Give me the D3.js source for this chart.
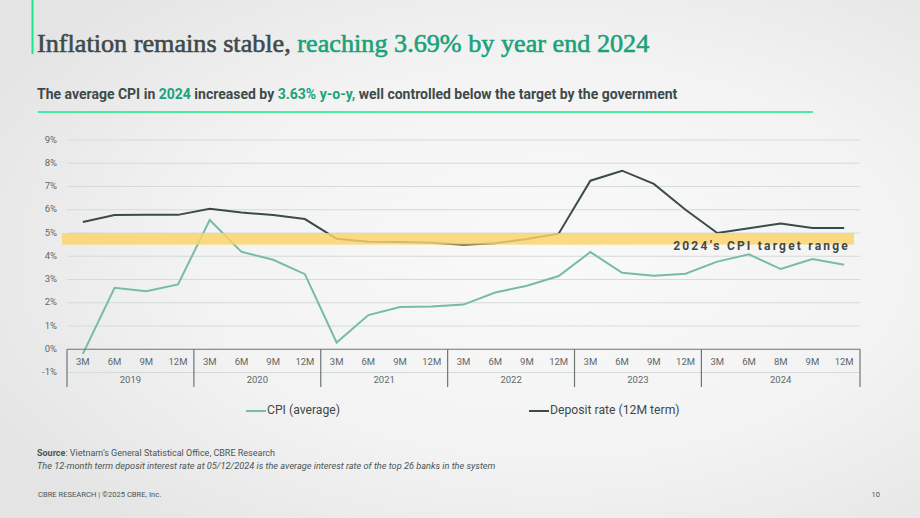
<!DOCTYPE html>
<html>
<head>
<meta charset="utf-8">
<script src="https://cdn.jsdelivr.net/npm/d3@7"></script>
<style>
  html, body { margin: 0; padding: 0; background: #eeeeee; }
  svg { display: block; }
</style>
</head>
<body>
<svg id="chart" width="920" height="518"></svg>
<script>
// Data
const periods = ['3M','6M','9M','12M','3M','6M','9M','12M','3M','6M','9M','12M',
  '3M','6M','9M','12M','3M','6M','9M','12M','3M','6M','8M','9M','12M'];
const periodYears = ['2019','2019','2019','2019','2020','2020','2020','2020',
  '2021','2021','2021','2021','2022','2022','2022','2022','2023','2023','2023','2023',
  '2024','2024','2024','2024','2024'];
const years = ['2019','2020','2021','2022','2023','2024'];
const cpi = [-0.2, 2.64, 2.5, 2.79, 5.56, 4.19, 3.85, 3.23, 0.29, 1.47, 1.82, 1.84,
  1.92, 2.44, 2.73, 3.15, 4.18, 3.29, 3.16, 3.25, 3.77, 4.08, 3.45, 3.88, 3.63];
const deposit = [5.47, 5.77, 5.78, 5.78, 6.04, 5.88, 5.77, 5.6, 4.75, 4.62, 4.61, 4.58,
  4.49, 4.56, 4.74, 4.97, 7.25, 7.68, 7.11, 6.0, 5.0, 5.2, 5.41, 5.22, 5.21];
const yTicks = [-1, 0, 1, 2, 3, 4, 5, 6, 7, 8, 9];
const targetRange = [4.5, 5];

// Colors
const COLOR_CPI = '#77bca4';
const COLOR_DEPOSIT = '#3b4b49';
const COLOR_TEXT = '#3e4a4a';
const COLOR_GREEN = '#1aa27a';
const COLOR_ACCENT = '#17e88f';
const COLOR_GRID = '#d3dbdb';
const COLOR_AXIS = '#6d7575';

const svg = d3.select('#chart');

// Background
const defs = svg.append('defs');
const bg = defs.append('radialGradient').attr('id', 'bg')
  .attr('cx', '0.6').attr('cy', '0.5').attr('r', '0.7');
bg.append('stop').attr('offset', '0%').attr('stop-color', '#f9f9f9');
bg.append('stop').attr('offset', '55%').attr('stop-color', '#f3f3f3');
bg.append('stop').attr('offset', '100%').attr('stop-color', '#e4e4e4');
svg.append('rect').attr('width', 920).attr('height', 518).attr('fill', 'url(#bg)');

// Title block
svg.append('line')
  .attr('x1', 32.5).attr('x2', 32.5).attr('y1', 0).attr('y2', 54)
  .attr('stroke', COLOR_ACCENT).attr('stroke-width', 2);

const title = svg.append('text')
  .attr('x', 37).attr('y', 52)
  .attr('font-family', '"Liberation Serif", serif')
  .attr('font-size', 26.2)
  .attr('stroke-width', 0.6)
  .attr('fill', COLOR_TEXT).attr('stroke', COLOR_TEXT);
title.append('tspan').text('Inflation remains stable, ');
title.append('tspan').attr('fill', COLOR_GREEN).attr('stroke', COLOR_GREEN)
  .text('reaching 3.69% by year end 2024');

const sub = svg.append('text')
  .attr('x', 37).attr('y', 99)
  .attr('font-family', 'Roboto, sans-serif')
  .attr('font-size', 14).attr('font-weight', 700)
  .attr('fill', COLOR_TEXT);
[['The average CPI in ', false], ['2024', true], [' increased by ', false],
 ['3.63% y-o-y,', true], [' well controlled below the target by the government', false]]
  .forEach(([t, g]) => sub.append('tspan').attr('fill', g ? COLOR_GREEN : COLOR_TEXT).text(t));

svg.append('line')
  .attr('x1', 38).attr('x2', 813).attr('y1', 112).attr('y2', 112)
  .attr('stroke', COLOR_ACCENT).attr('stroke-width', 1.5);

// Scales
const x = d3.scaleBand().domain(d3.range(periods.length)).range([67, 860]);
const y = d3.scaleLinear().domain([-1, 9]).range([372.5, 140]);
const cx = i => x(i) + x.bandwidth() / 2;

// Gridlines
svg.append('g').selectAll('line')
  .data(yTicks.filter(d => d !== 0))
  .join('line')
  .attr('x1', 67).attr('x2', 860)
  .attr('y1', d => y(d)).attr('y2', d => y(d))
  .attr('stroke', COLOR_GRID).attr('stroke-width', 1.2);

// Y tick labels
svg.append('g').selectAll('text')
  .data(yTicks)
  .join('text')
  .attr('x', 57).attr('y', d => y(d))
  .attr('text-anchor', 'end').attr('dominant-baseline', 'middle')
  .attr('font-family', 'Roboto, sans-serif').attr('font-size', 9.5)
  .attr('fill', '#5d6767')
  .text(d => d + '%');

// Lines
const line = d3.line().x((d, i) => cx(i)).y(d => y(d));
svg.append('path').datum(cpi)
  .attr('d', line).attr('fill', 'none')
  .attr('stroke', COLOR_CPI).attr('stroke-width', 2);
svg.append('path').datum(deposit)
  .attr('d', line).attr('fill', 'none')
  .attr('stroke', COLOR_DEPOSIT).attr('stroke-width', 2);

// Target band (over the lines, semi-transparent)
svg.append('rect')
  .attr('x', 62).attr('width', 854 - 62)
  .attr('y', y(targetRange[1])).attr('height', y(targetRange[0]) - y(targetRange[1]))
  .attr('fill', '#fdd36a').attr('opacity', 0.82);

svg.append('text')
  .attr('x', 850).attr('y', 250)
  .attr('text-anchor', 'end')
  .attr('font-family', 'Roboto, sans-serif').attr('font-size', 12).attr('font-weight', 700)
  .attr('letter-spacing', 2.2)
  .attr('fill', COLOR_TEXT)
  .text('2024’s CPI target range');

// Category axis
const axisG = svg.append('g');
axisG.append('line')
  .attr('x1', 67).attr('x2', 860).attr('y1', y(0)).attr('y2', y(0))
  .attr('stroke', COLOR_AXIS).attr('stroke-width', 1.2);

const yearStarts = years.map(yr => periodYears.indexOf(yr));
const boundaries = yearStarts.map(i => x(i)).concat([x(periods.length - 1) + x.bandwidth()]);
axisG.selectAll('.sep')
  .data(boundaries)
  .join('line')
  .attr('class', 'sep')
  .attr('x1', d => d).attr('x2', d => d)
  .attr('y1', y(0)).attr('y2', 387)
  .attr('stroke', COLOR_AXIS).attr('stroke-width', 1.2);

axisG.selectAll('.period')
  .data(periods)
  .join('text')
  .attr('class', 'period')
  .attr('x', (d, i) => cx(i)).attr('y', 362)
  .attr('text-anchor', 'middle').attr('dominant-baseline', 'middle')
  .attr('font-family', 'Roboto, sans-serif').attr('font-size', 9.5)
  .attr('fill', '#5d6767')
  .text(d => d);

axisG.selectAll('.year')
  .data(years)
  .join('text')
  .attr('class', 'year')
  .attr('x', (d, k) => (boundaries[k] + boundaries[k + 1]) / 2).attr('y', 380.5)
  .attr('text-anchor', 'middle').attr('dominant-baseline', 'middle')
  .attr('font-family', 'Roboto, sans-serif').attr('font-size', 9.5)
  .attr('fill', '#5d6767')
  .text(d => d);

// Legend
const legend = [
  { label: 'CPI (average)', color: COLOR_CPI, x: 246 },
  { label: 'Deposit rate (12M term)', color: COLOR_DEPOSIT, x: 529 }
];
const lg = svg.append('g').selectAll('g').data(legend).join('g')
  .attr('transform', d => `translate(${d.x}, 411)`);
lg.append('line').attr('x1', 0).attr('x2', 20)
  .attr('stroke', d => d.color).attr('stroke-width', 2);
lg.append('text').attr('x', 21).attr('y', 0)
  .attr('dominant-baseline', 'middle')
  .attr('font-family', 'Roboto, sans-serif').attr('font-size', 12.2)
  .attr('fill', COLOR_TEXT)
  .text(d => d.label);

// Footer
const src = svg.append('text').attr('x', 37).attr('y', 456)
  .attr('font-family', 'Roboto, sans-serif').attr('font-size', 9)
  .attr('fill', '#4a5555');
src.append('tspan').attr('font-weight', 700).text('Source');
src.append('tspan').text(': Vietnam’s General Statistical Office, CBRE Research');

svg.append('text').attr('x', 37).attr('y', 469)
  .attr('font-family', 'Roboto, sans-serif').attr('font-size', 9.2)
  .attr('font-style', 'italic').attr('fill', '#4a5555')
  .text('The 12-month term deposit interest rate at 05/12/2024 is the average interest rate of the top 26 banks in the system');

svg.append('text').attr('x', 38).attr('y', 497)
  .attr('font-family', 'Roboto, sans-serif').attr('font-size', 7.6)
  .attr('fill', '#4a5555')
  .text('CBRE RESEARCH | ©2025 CBRE, Inc.');

svg.append('text').attr('x', 880).attr('y', 497)
  .attr('text-anchor', 'end')
  .attr('font-family', 'Roboto, sans-serif').attr('font-size', 7.5)
  .attr('fill', '#4a5555')
  .text('10');
</script>
</body>
</html>
